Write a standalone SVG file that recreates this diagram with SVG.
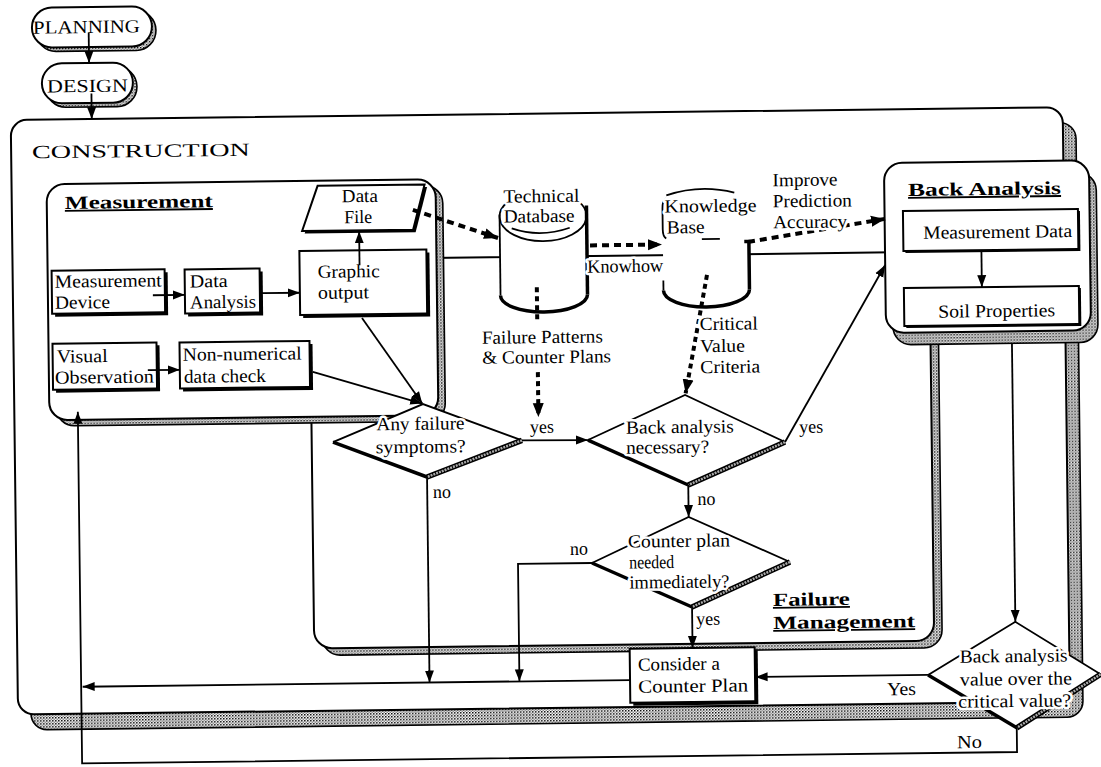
<svg xmlns="http://www.w3.org/2000/svg" width="1101" height="767" viewBox="0 0 1101 767">
<defs>
<pattern id="dots" width="3" height="3" patternUnits="userSpaceOnUse">
<rect width="3" height="3" fill="#fff"/><rect width="1.5" height="1.5" fill="#000"/><rect x="1.5" y="1.5" width="1.5" height="1.5" fill="#888"/>
</pattern>
<marker id="ah" viewBox="0 0 12 10" refX="12" refY="5" markerWidth="12" markerHeight="10" markerUnits="userSpaceOnUse" orient="auto">
<path d="M0,0.5 L12,5 L0,9.5 Z" fill="#000"/>
</marker>
<marker id="ahd" viewBox="0 0 14 12" refX="14" refY="6" markerWidth="14" markerHeight="12" markerUnits="userSpaceOnUse" orient="auto">
<path d="M0,0.5 L14,6 L0,11.5 Z" fill="#000"/>
</marker>
<style>
.ln{fill:none;stroke:#000;stroke-width:1.8}
.box{fill:#fff;stroke:#000;stroke-width:2}
.sh{fill:#000}
.band{fill:url(#dots);stroke:#000;stroke-width:1.6}
.t{font-family:"Liberation Serif","Times New Roman",serif;font-size:18.5px;fill:#000}
.ko{paint-order:stroke;stroke:#fff;stroke-width:5px;stroke-linejoin:round}
.ttl{font-weight:bold;text-decoration:underline}
.dash{fill:none;stroke:#000;stroke-width:4;stroke-dasharray:7 5}
.dot{fill:none;stroke:#000;stroke-width:4;stroke-dasharray:5 4}
.thk{fill:none;stroke:#000;stroke-width:3.5}
.tex1{fill:none;stroke:#000;stroke-width:5.5}
.tex2{fill:none;stroke:#aaa;stroke-width:2.5;stroke-dasharray:2 1}
.cn{fill:none;stroke:#000;stroke-width:1.8}
</style>
</defs>
<rect width="1101" height="767" fill="#fff"/>
<g transform="rotate(-0.7 550 383)">

<g id="construction">
<rect x="27" y="129" width="1052" height="594.5" rx="16" class="band"/>
<rect x="14" y="113.5" width="1052" height="594.5" rx="16" class="box"/>
<text x="34.8" y="152" class="t" font-size="26" textLength="218" lengthAdjust="spacingAndGlyphs">CONSTRUCTION</text>
</g>

<g id="failure-management">
<rect x="319" y="263.5" width="620" height="389" rx="18" class="band"/>
<rect x="311" y="256.5" width="620" height="389" rx="18" class="box"/>
<text x="770.2" y="608.6" class="t ttl" font-size="22" textLength="77" lengthAdjust="spacingAndGlyphs">Failure</text>
<text x="770.2" y="631.6" class="t ttl" font-size="22" textLength="142" lengthAdjust="spacingAndGlyphs">Management</text>
</g>

<g id="measurement">
<rect x="56" y="184" width="389" height="236" rx="18" class="band"/>
<rect x="49" y="178" width="389" height="236" rx="18" class="box"/>
<text x="67" y="203" class="t ttl" font-size="22" textLength="148" lengthAdjust="spacingAndGlyphs">Measurement</text>
</g>

<g id="data-file">
<polygon points="322.5,185.5 429.5,185.5 417.5,230.5 306.5,230.5" class="sh"/>
<polygon points="320,183 427,183 415,228 304,228" class="box"/>
<text x="344.1" y="199.7" class="t" font-size="17.5" textLength="36" lengthAdjust="spacingAndGlyphs">Data</text>
<text x="346.1" y="220.7" class="t" font-size="17.5" textLength="28" lengthAdjust="spacingAndGlyphs">File</text>
</g>

<g id="graphic-output">
<rect x="304" y="251" width="127" height="64" class="sh"/>
<rect x="301" y="248" width="127" height="64" class="box"/>
<text x="319" y="275" class="t" textLength="62" lengthAdjust="spacingAndGlyphs">Graphic</text>
<text x="319" y="296" class="t" textLength="51" lengthAdjust="spacingAndGlyphs">output</text>
</g>

<g id="measurement-device">
<rect x="56" y="267.6" width="113" height="43" class="sh"/>
<rect x="53" y="264.6" width="113" height="43" class="box"/>
<text x="56" y="281.6" class="t" textLength="107" lengthAdjust="spacingAndGlyphs">Measurement</text>
<text x="56" y="302.6" class="t" textLength="55" lengthAdjust="spacingAndGlyphs">Device</text>
</g>

<g id="data-analysis">
<rect x="189" y="268" width="75" height="44" class="sh"/>
<rect x="186" y="265" width="75" height="44" class="box"/>
<text x="191" y="283" class="t" textLength="38" lengthAdjust="spacingAndGlyphs">Data</text>
<text x="191" y="304" class="t" textLength="66" lengthAdjust="spacingAndGlyphs">Analysis</text>
</g>

<g id="visual-observation">
<rect x="56" y="340.6" width="104" height="46" class="sh"/>
<rect x="53" y="337.6" width="104" height="46" class="box"/>
<text x="57" y="356.6" class="t" textLength="51" lengthAdjust="spacingAndGlyphs">Visual</text>
<text x="55" y="377.6" class="t" textLength="99" lengthAdjust="spacingAndGlyphs">Observation</text>
</g>

<g id="non-numerical">
<rect x="183" y="341" width="130" height="46" class="sh"/>
<rect x="180" y="338" width="130" height="46" class="box"/>
<text x="183" y="356.3" class="t" textLength="119" lengthAdjust="spacingAndGlyphs">Non-numerical</text>
<text x="184" y="378.3" class="t" textLength="82" lengthAdjust="spacingAndGlyphs">data check</text>
</g>

<g id="technical-database">
<path d="M501.6,216 A43.5,25 0 0 1 588.6,216 L588.6,295 A43.5,17 0 0 1 501.6,295 Z" fill="#fff"/>
<path class="ln" d="M509.5,201.7 A43.5,25 0 1 0 580.7,201.7"/>
<path class="ln" d="M513.6,228 Q542,238 571.6,228"/>
<path class="ln" d="M501.6,214 L501.6,295"/>
<path class="thk" d="M588.6,206 L588.6,295"/>
<path class="thk" d="M501.6,295 A43.5,17 0 0 0 588.6,295"/>
<text x="505.6" y="202" class="t ko" textLength="76" lengthAdjust="spacingAndGlyphs">Technical</text>
<text x="505.6" y="222" class="t ko" textLength="71" lengthAdjust="spacingAndGlyphs">Database</text>
</g>

<g id="knowledge-base">
<path d="M664.6,218 A43,26 0 0 1 750.6,218 L750.6,291.9 A43,17 0 0 1 664.6,291.9 Z" fill="#fff"/>
<path class="ln" d="M668.6,196.9 Q702,185.9 736.6,194.9"/>
<path class="ln" d="M668,200 Q664.6,202 664.6,210 L664.6,231 Q664.6,238 668,240"/>
<path class="ln" d="M703.6,240.9 L721.6,240.9"/>
<path class="thk" d="M746,243.9 L750.6,243.9 L750.6,291.9"/>
<path class="ln" d="M664.6,281.9 L664.6,291.9"/>
<path class="thk" d="M664.6,291.9 A43,17 0 0 0 750.6,291.9"/>
<text x="666.6" y="213.9" class="t ko" textLength="92" lengthAdjust="spacingAndGlyphs">Knowledge</text>
<text x="668.6" y="234.9" class="t ko" textLength="38" lengthAdjust="spacingAndGlyphs">Base</text>
</g>

<g id="back-analysis">
<rect x="893.6" y="179" width="205" height="170" rx="18" class="band"/>
<rect x="886.6" y="167" width="205" height="170" rx="18" class="box"/>
<text x="910.3" y="200.3" class="t ttl" font-size="24" textLength="153" lengthAdjust="spacingAndGlyphs">Back Analysis</text>
</g>

<g id="measurement-data">
<rect x="907" y="217.4" width="175" height="40" class="sh"/>
<rect x="905" y="215.4" width="175" height="40" class="box"/>
<text x="924.9" y="243.4" class="t" textLength="149" lengthAdjust="spacingAndGlyphs">Measurement Data</text>
</g>

<g id="soil-properties">
<rect x="907" y="294.4" width="175" height="38" class="sh"/>
<rect x="905" y="292.4" width="175" height="38" class="box"/>
<text x="939" y="322.4" class="t" textLength="117" lengthAdjust="spacingAndGlyphs">Soil Properties</text>
</g>

<g id="consider-counter-plan">
<rect x="629.4" y="652.7" width="125" height="54" class="sh"/>
<rect x="626.4" y="649.7" width="125" height="54" class="box"/>
<text x="634.4" y="671.7" class="t" textLength="82" lengthAdjust="spacingAndGlyphs">Consider a</text>
<text x="634.4" y="693.7" class="t" textLength="110" lengthAdjust="spacingAndGlyphs">Counter Plan</text>
</g>

<g id="any-failure">
<polygon points="422.7,402.5 521.3,440 425.9,475.5 332.3,439.4" fill="#fff"/>
<path class="ln" d="M332.3,439.4 L422.7,402.5 L521.3,440"/>
<path class="tex1" d="M521.3,440 L425.9,475.5"/>
<path class="tex2" d="M521.3,440 L425.9,475.5"/>
<path class="thk" d="M332.3,439.4 L425.9,475.5"/>
<text x="376" y="428.2" class="t ko" textLength="88" lengthAdjust="spacingAndGlyphs">Any failure</text>
<text x="375" y="451.2" class="t ko" textLength="90" lengthAdjust="spacingAndGlyphs">symptoms?</text>
</g>

<g id="back-analysis-necessary">
<polygon points="587.3,440.5 684.9,396.6 784.3,444.9 687,486.7" fill="#fff"/>
<path class="ln" d="M587.3,440.5 L684.9,396.6 L784.3,444.9"/>
<path class="tex1" d="M784.3,444.9 L687,486.7"/>
<path class="tex2" d="M784.3,444.9 L687,486.7"/>
<path class="thk" d="M587.3,440.5 L687,486.7"/>
<text x="625.3" y="434.6" class="t ko" textLength="108" lengthAdjust="spacingAndGlyphs">Back analysis</text>
<text x="625.3" y="454.6" class="t ko" textLength="83" lengthAdjust="spacingAndGlyphs">necessary?</text>
</g>

<g id="counter-plan-needed">
<polygon points="687,518.7 787.8,564.9 689.3,608.7 589.8,563.5" fill="#fff"/>
<path class="ln" d="M589.8,563.5 L687,518.7 L787.8,564.9"/>
<path class="tex1" d="M787.8,564.9 L689.3,608.7"/>
<path class="tex2" d="M787.8,564.9 L689.3,608.7"/>
<path class="thk" d="M589.8,563.5 L689.3,608.7"/>
<text x="626" y="548.5" class="t ko" textLength="102" lengthAdjust="spacingAndGlyphs">Counter plan</text>
<text x="627" y="569.5" class="t ko" textLength="45" lengthAdjust="spacingAndGlyphs">needed</text>
<text x="627" y="589.5" class="t ko" textLength="100" lengthAdjust="spacingAndGlyphs">immediately?</text>
</g>

<g id="back-analysis-value">
<polygon points="1012.4,627.5 1097,681 1012.5,733.5 924.5,679.5" fill="#fff"/>
<path class="ln" d="M924.5,679.5 L1012.4,627.5 L1097,681"/>
<path class="tex1" d="M1097,681 L1012.5,733.5"/>
<path class="tex2" d="M1097,681 L1012.5,733.5"/>
<path class="thk" d="M924.5,679.5 L1012.5,733.5"/>
<text x="956.3" y="667.7" class="t ko" textLength="108" lengthAdjust="spacingAndGlyphs">Back analysis</text>
<text x="956.3" y="690.7" class="t ko" textLength="112" lengthAdjust="spacingAndGlyphs">value over the</text>
<text x="954.3" y="712.7" class="t ko" textLength="113" lengthAdjust="spacingAndGlyphs">critical value?</text>
</g>

<g id="planning">
<rect x="40.3" y="5.4" width="120" height="40" rx="20" class="band"/>
<rect x="36.3" y="1.4" width="120" height="40" rx="20" class="box"/>
<text x="37.3" y="27.4" class="t" font-size="19" textLength="107" lengthAdjust="spacingAndGlyphs">PLANNING</text>
</g>

<g id="design">
<rect x="49.6" y="61.4" width="91" height="40" rx="20" class="band"/>
<rect x="45.6" y="57.4" width="91" height="40" rx="20" class="box"/>
<text x="50.6" y="86.4" class="t" font-size="20" textLength="81" lengthAdjust="spacingAndGlyphs">DESIGN</text>
</g>

<g id="connectors">
<path class="cn" d="M93,27 L93,57.4" marker-end="url(#ah)" stroke-width="2.2"/>
<path class="cn" d="M95,88 L95,113.5" marker-end="url(#ah)" stroke-width="2.2"/>
<path class="cn" d="M154,290.4 L186,290.4" marker-end="url(#ah)"/>
<path class="cn" d="M263,289.7 L301,289.7" marker-end="url(#ah)"/>
<path class="cn" d="M148,365.3 L180,365.3" marker-end="url(#ah)"/>
<path class="cn" d="M361,263 L361,229" marker-end="url(#ah)"/>
<path class="cn" d="M362.8,315.7 L422,402" marker-end="url(#ah)" stroke-width="2.4"/>
<path class="cn" d="M313,369 L422,402" marker-end="url(#ah)" stroke-width="2.4"/>
<path class="dash" d="M415,208.3 L499.8,237.4" marker-end="url(#ahd)"/>
<path class="dash" d="M591.7,245.9 L663.7,245.9" marker-end="url(#ahd)"/>
<path class="dash" d="M749.7,244.4 L887,223" marker-end="url(#ahd)"/>
<path class="dot" d="M538,287 L538,322"/>
<path class="dot" d="M538,372 L538,417" marker-end="url(#ahd)"/>
<path class="dot" d="M708.3,276.9 L685.5,395" marker-end="url(#ahd)"/>
<path class="cn" d="M521.3,440 L587.3,440.5" marker-end="url(#ah)"/>
<path class="cn" d="M784.3,444.9 L886.6,269.1" marker-end="url(#ah)" stroke-width="2.4"/>
<path class="cn" d="M687,486.7 L687,518.7" marker-end="url(#ah)"/>
<path class="cn" d="M589.8,563.5 L515.8,563.5 L515.8,681" marker-end="url(#ah)"/>
<path class="cn" d="M425.9,475.5 L425.9,681" marker-end="url(#ah)"/>
<path class="cn" d="M689.3,608.7 L689.3,649.7" marker-end="url(#ah)"/>
<path class="cn" d="M626.4,681 L79,681" marker-end="url(#ah)" stroke-width="2.2"/>
<path class="cn" d="M983,255.4 L983,292.4" marker-end="url(#ah)"/>
<path class="cn" d="M1012.4,349 L1012.4,627.5" marker-end="url(#ah)"/>
<path class="cn" d="M924.5,679.5 L752,679.5" marker-end="url(#ah)" stroke-width="2.2"/>
<path class="cn" d="M1012.5,733.5 L1012.5,757.7 L77.5,757.7 L77.5,406" marker-end="url(#ah)" stroke-width="2.2"/>
<text x="588.6" y="273.1" class="t ko" textLength="76" lengthAdjust="spacingAndGlyphs">Knowhow</text>
<text x="775" y="189" class="t ko" textLength="65" lengthAdjust="spacingAndGlyphs">Improve</text>
<text x="775" y="210" class="t ko" textLength="79" lengthAdjust="spacingAndGlyphs">Prediction</text>
<text x="775" y="231" class="t ko" textLength="74" lengthAdjust="spacingAndGlyphs">Accuracy</text>
<text x="482.4" y="343" class="t ko" textLength="121" lengthAdjust="spacingAndGlyphs">Failure Patterns</text>
<text x="482.4" y="363" class="t ko" textLength="129" lengthAdjust="spacingAndGlyphs">&amp; Counter Plans</text>
<text x="700.4" y="331.9" class="t ko" textLength="58" lengthAdjust="spacingAndGlyphs">Critical</text>
<text x="700.4" y="354" class="t ko" textLength="45" lengthAdjust="spacingAndGlyphs">Value</text>
<text x="700.4" y="375" class="t ko" textLength="60" lengthAdjust="spacingAndGlyphs">Criteria</text>
<text x="529.4" y="432.8" class="t" textLength="24" lengthAdjust="spacingAndGlyphs">yes</text>
<text x="798.6" y="436" class="t" textLength="24" lengthAdjust="spacingAndGlyphs">yes</text>
<text x="696" y="506.8" class="t" textLength="18" lengthAdjust="spacingAndGlyphs">no</text>
<text x="431.6" y="496.6" class="t" textLength="18" lengthAdjust="spacingAndGlyphs">no</text>
<text x="567.9" y="555.2" class="t" textLength="18" lengthAdjust="spacingAndGlyphs">no</text>
<text x="693.4" y="626.8" class="t" textLength="24" lengthAdjust="spacingAndGlyphs">yes</text>
<text x="883.2" y="699.3" class="t" textLength="29" lengthAdjust="spacingAndGlyphs">Yes</text>
<text x="952.5" y="753.1" class="t" textLength="25" lengthAdjust="spacingAndGlyphs">No</text>
</g>

</g>
</svg>
